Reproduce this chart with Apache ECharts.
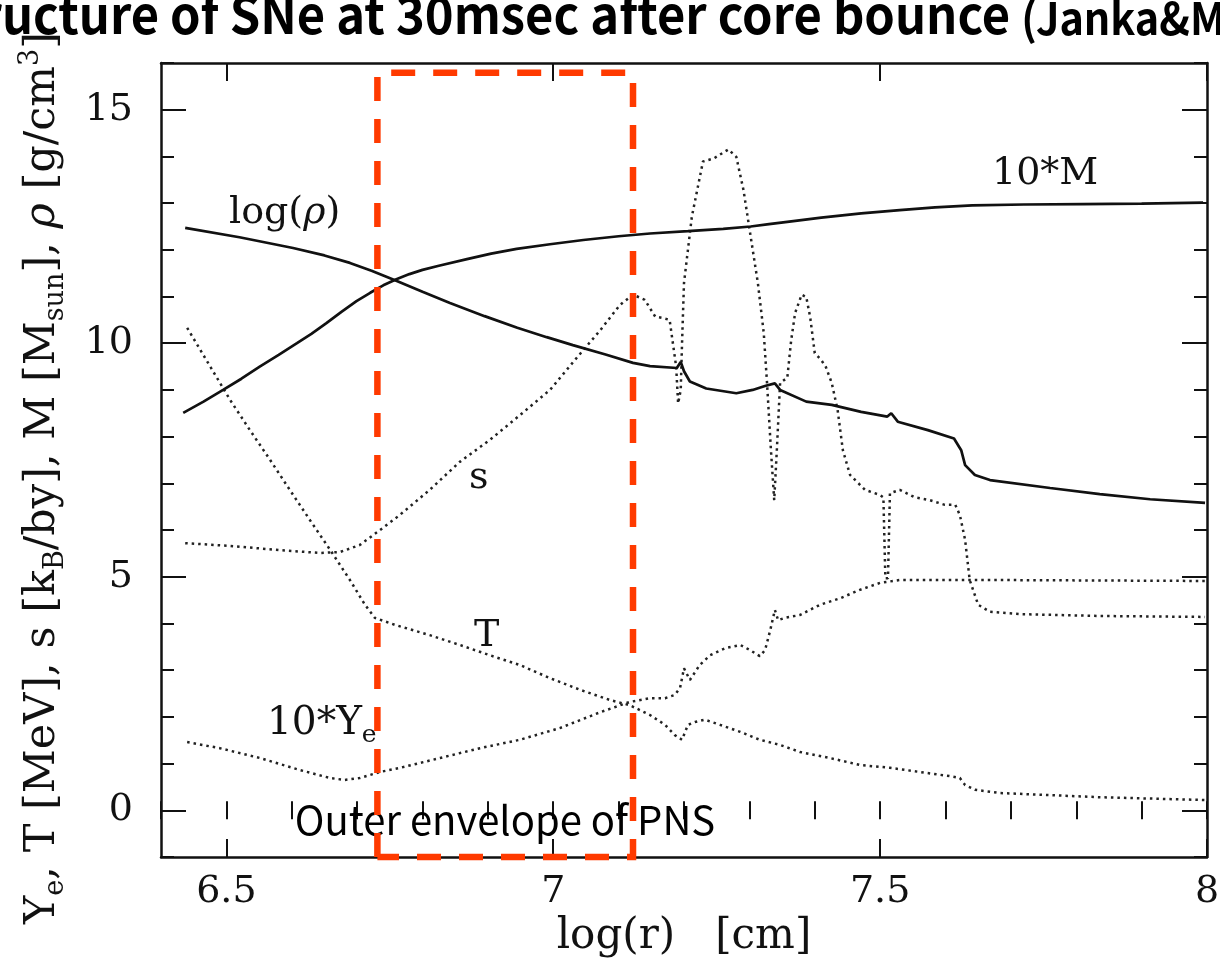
<!DOCTYPE html>
<html><head><meta charset="utf-8">
<script src="https://cdn.jsdelivr.net/npm/echarts@6/dist/echarts.min.js"></script>
<style>html,body{margin:0;padding:0;background:#fff;overflow:hidden}#c{width:1220px;height:959px}</style>
</head><body><div id="c"></div>
<script>
// ---- axis ranges and ticks ----
const X_MIN = 6.4, X_MAX = 8;
const Y_MIN = -1, Y_MAX = 16;
const xMajorTicks = [6.5, 7, 7.5, 8];
const xMinorTicks = [6.4, 6.5, 6.6, 6.7, 6.8, 6.9, 7.0, 7.1, 7.2, 7.3, 7.4, 7.5, 7.6, 7.7, 7.8, 7.9, 8.0];
const yMajorTicks = [0, 5, 10, 15];
const yMinorTicks = [-1, 0, 1, 2, 3, 4, 5, 6, 7, 8, 9, 10, 11, 12, 13, 14, 15, 16];

// ---- series values [log(r), value] ----
const rhoData = [
 [6.437,12.47],[6.520,12.27],[6.602,12.04],[6.650,11.88],[6.689,11.72],[6.722,11.55],[6.758,11.35],
 [6.800,11.10],[6.842,10.86],[6.895,10.58],[6.945,10.33],[6.990,10.13],[7.030,9.96],[7.080,9.76],
 [7.122,9.58],[7.148,9.51],[7.189,9.47],[7.195,9.60],[7.200,9.40],[7.209,9.18],[7.234,9.03],[7.280,8.93],
 [7.305,9.00],[7.325,9.09],[7.339,9.14],[7.347,9.00],[7.387,8.75],[7.426,8.68],[7.471,8.53],[7.511,8.43],
 [7.517,8.50],[7.527,8.32],[7.573,8.14],[7.613,7.96],[7.624,7.71],[7.630,7.39],[7.645,7.18],[7.668,7.07],
 [7.760,6.90],[7.836,6.77],[7.913,6.66],[7.997,6.58]
];
const massData = [
 [6.434,8.51],[6.465,8.75],[6.495,9.00],[6.523,9.24],[6.551,9.50],[6.580,9.75],[6.608,10.00],
 [6.630,10.20],[6.653,10.43],[6.676,10.67],[6.699,10.90],[6.720,11.08],[6.740,11.24],[6.760,11.37],
 [6.780,11.48],[6.800,11.57],[6.825,11.66],[6.868,11.80],[6.905,11.92],[6.944,12.02],[6.995,12.12],
 [7.046,12.21],[7.100,12.29],[7.148,12.35],[7.206,12.40],[7.260,12.45],[7.302,12.50],[7.330,12.55],
 [7.358,12.60],[7.410,12.69],[7.471,12.78],[7.530,12.85],[7.584,12.91],[7.641,12.95],[7.720,12.97],
 [7.810,12.98],[7.900,12.99],[7.994,13.01]
];
const entropyData = [
 [6.437,5.72],[6.506,5.66],[6.582,5.57],[6.643,5.51],[6.674,5.53],[6.704,5.68],[6.735,6.00],[6.765,6.32],
 [6.811,6.86],[6.857,7.46],[6.903,7.93],[6.949,8.46],[6.995,9.00],[7.033,9.64],[7.072,10.28],[7.102,10.82],
 [7.122,11.04],[7.140,10.93],[7.156,10.57],[7.167,10.54],[7.178,10.50],[7.183,10.00],[7.188,9.50],
 [7.191,8.71],[7.195,9.00],[7.197,10.00],[7.200,11.29],[7.212,12.71],[7.229,13.89],[7.246,13.96],
 [7.268,14.15],[7.280,13.99],[7.291,13.28],[7.302,12.28],[7.313,11.29],[7.322,10.22],[7.327,9.15],
 [7.333,7.71],[7.338,6.64],[7.342,7.71],[7.347,9.15],[7.358,9.26],[7.364,10.07],[7.370,10.65],
 [7.380,11.04],[7.387,10.99],[7.393,10.56],[7.400,9.79],[7.410,9.64],[7.417,9.49],[7.426,9.15],
 [7.435,8.57],[7.443,7.71],[7.454,7.18],[7.477,6.86],[7.500,6.75],[7.505,6.70],[7.508,4.97],[7.512,4.97],
 [7.515,6.79],[7.530,6.86],[7.553,6.70],[7.576,6.64],[7.599,6.54],[7.615,6.54],[7.622,6.32],[7.630,5.79],
 [7.637,4.93],[7.650,4.40],[7.668,4.25],[7.714,4.20],[7.836,4.16],[7.997,4.14]
];
const tempData = [
 [6.440,10.33],[6.460,9.86],[6.483,9.32],[6.506,8.78],[6.536,8.14],[6.567,7.50],[6.597,6.86],[6.628,6.21],
 [6.659,5.57],[6.689,4.93],[6.712,4.40],[6.727,4.12],[6.758,3.97],[6.811,3.75],[6.857,3.54],[6.903,3.32],
 [6.949,3.11],[6.995,2.83],[7.041,2.58],[7.087,2.36],[7.117,2.25],[7.148,2.04],[7.171,1.83],[7.186,1.61],
 [7.197,1.51],[7.206,1.83],[7.217,1.89],[7.232,1.94],[7.255,1.83],[7.286,1.68],[7.316,1.51],[7.347,1.40],
 [7.377,1.25],[7.423,1.12],[7.469,0.97],[7.515,0.91],[7.561,0.82],[7.607,0.73],[7.622,0.69],[7.630,0.54],
 [7.645,0.44],[7.683,0.37],[7.836,0.28],[7.997,0.22]
];
const yeData = [
 [6.440,1.46],[6.490,1.33],[6.551,1.12],[6.613,0.86],[6.659,0.69],[6.681,0.65],[6.704,0.69],[6.735,0.82],
 [6.766,0.91],[6.827,1.12],[6.888,1.33],[6.949,1.51],[7.010,1.76],[7.072,2.10],[7.117,2.32],[7.148,2.40],
 [7.171,2.40],[7.186,2.47],[7.194,2.62],[7.200,3.04],[7.209,2.79],[7.224,3.11],[7.240,3.32],[7.263,3.47],
 [7.286,3.54],[7.301,3.43],[7.316,3.30],[7.324,3.43],[7.332,3.86],[7.339,4.29],[7.344,4.07],[7.354,4.12],
 [7.377,4.18],[7.408,4.40],[7.439,4.54],[7.469,4.72],[7.500,4.87],[7.530,4.93],[7.683,4.93],[7.997,4.91]
];
// outer envelope of PNS (box corners)
const envX = [6.731, 7.122];
const envY = [-1.0, 15.79];

// ---- styles ----
const SERIF = '"DejaVu Serif", "Liberation Serif", serif';
const INK = '#111';
const dot = { type: [2.5, 4], width: 2.5, color: '#222' };
const solid = { type: 'solid', width: 2.7, color: INK };

const chart = echarts.init(document.getElementById('c'), null, { renderer: 'canvas' });

function xAx(pos, ticks, len, extra) {
  return Object.assign({
    type: 'value', min: X_MIN, max: X_MAX, position: pos,
    splitLine: { show: false },
    axisLine: { show: false },
    axisLabel: { show: false },
    axisTick: { show: true, inside: true, length: len, customValues: ticks, lineStyle: { color: INK, width: 2 } }
  }, extra || {});
}
function yAx(pos, ticks, len, extra) {
  return Object.assign({
    type: 'value', min: Y_MIN, max: Y_MAX, position: pos,
    splitLine: { show: false },
    axisLine: { show: false },
    axisLabel: { show: false },
    axisTick: { show: true, inside: true, length: len, customValues: ticks, lineStyle: { color: INK, width: 2 } }
  }, extra || {});
}
const frameLine = { show: true, onZero: false, lineStyle: { color: INK, width: 2.5 } };

const envBox = [[envX[0], envY[0]], [envX[0], envY[1]], [envX[1], envY[1]], [envX[1], envY[0]], [envX[0], envY[0]]];

const option = {
  animation: false,
  backgroundColor: '#fff',
  grid: { left: 161, right: 13, top: 63, bottom: 102, outerBoundsMode: 'none', containLabel: false },
  xAxis: [
    xAx('bottom', xMajorTicks, 18, {
      axisLine: frameLine,
      axisLabel: { show: true, customValues: xMajorTicks, formatter: v => String(v), margin: 16,
        color: INK, fontFamily: SERIF, fontSize: 38 },
      name: 'log(r)   [cm]', nameLocation: 'middle', nameGap: 56,
      nameTextStyle: { color: INK, fontFamily: SERIF, fontSize: 42 }
    }),
    xAx('bottom', xMinorTicks, 9),
    xAx('top', xMajorTicks, 18, { axisLine: frameLine }),
    xAx('top', xMinorTicks, 9)
  ],
  yAxis: [
    yAx('left', yMajorTicks, 25, {
      axisLine: frameLine,
      axisLabel: { show: true, customValues: yMajorTicks, formatter: v => String(v), margin: 28,
        color: INK, fontFamily: SERIF, fontSize: 38 },
      name: '{n|Y}{sub|e}{n|, T [MeV], s [k}{sub|B}{n|/by], M [M}{sub|sun}{n|], }{it|ρ}{n| [g/cm}{sup|3}{n|]}',
      nameLocation: 'middle', nameRotate: 90, nameGap: 92,
      nameTextStyle: { color: INK, fontFamily: SERIF, fontSize: 43, padding: [0, 36, 0, 0],
        rich: {
          n: { fontFamily: SERIF, fontSize: 43, color: INK, lineHeight: 52, verticalAlign: 'middle' },
          it: { fontFamily: SERIF, fontSize: 43, fontStyle: 'italic', color: INK, lineHeight: 52, verticalAlign: 'middle' },
          sub: { fontFamily: SERIF, fontSize: 27, color: INK, lineHeight: 27, verticalAlign: 'bottom' },
          sup: { fontFamily: SERIF, fontSize: 27, color: INK, lineHeight: 27, verticalAlign: 'top' }
        } }
    }),
    yAx('left', yMinorTicks, 13),
    yAx('right', yMajorTicks, 25, { axisLine: frameLine }),
    yAx('right', yMinorTicks, 13)
  ],
  series: [
    { name: 'log(rho)', type: 'line', data: rhoData, showSymbol: false, symbol: 'none', lineStyle: solid, z: 3 },
    { name: '10*M', type: 'line', data: massData, showSymbol: false, symbol: 'none', lineStyle: solid, z: 3 },
    { name: 's', type: 'line', data: entropyData, showSymbol: false, symbol: 'none', lineStyle: dot, z: 2 },
    { name: 'T', type: 'line', data: tempData, showSymbol: false, symbol: 'none', lineStyle: dot, z: 2 },
    { name: '10*Ye', type: 'line', data: yeData, showSymbol: false, symbol: 'none', lineStyle: dot, z: 2 },
    { name: 'Outer envelope of PNS', type: 'line', data: envBox, showSymbol: false, symbol: 'none', clip: false,
      lineStyle: { type: [24, 18], width: 6.5, color: '#ff3a00', cap: 'butt', join: 'miter' }, z: 5 }
  ],
  graphic: [
    { type: 'text', x: -69, y: 40, scaleX: 0.94, z: 10, style: {
        text: '{t|Structure of SNe at 30msec after core bounce }{s|(Janka&Müller)}',
        verticalAlign: 'bottom', align: 'left',
        rich: {
          t: { font: 'bold 52px "Noto Sans CJK JP"', fill: '#000', verticalAlign: 'bottom' },
          s: { font: 'bold 44px "Noto Sans CJK JP"', fill: '#000', verticalAlign: 'bottom' }
        } } },
    { type: 'text', x: 229, y: 232, z: 10, style: { text: '{n|log(}{it|ρ}{n|)}', verticalAlign: 'bottom',
        rich: { n: { font: '38px ' + SERIF, fill: INK }, it: { font: 'italic 38px ' + SERIF, fill: INK } } } },
    { type: 'text', x: 992, y: 193, z: 10, style: { text: '10*M', font: '38px ' + SERIF, fill: INK, verticalAlign: 'bottom' } },
    { type: 'text', x: 469, y: 497, z: 10, style: { text: 's', font: '38px ' + SERIF, fill: INK, verticalAlign: 'bottom' } },
    { type: 'text', x: 474, y: 655, z: 10, style: { text: 'T', font: '38px ' + SERIF, fill: INK, verticalAlign: 'bottom' } },
    { type: 'text', x: 267, y: 748, z: 10, style: {
        text: '{n|10*Y}{sub|e}', verticalAlign: 'bottom',
        rich: {
          n: { font: '39px ' + SERIF, fill: INK, lineHeight: 48, verticalAlign: 'middle' },
          sub: { font: '25px ' + SERIF, fill: INK, lineHeight: 25, verticalAlign: 'bottom' }
        } } },
    { type: 'text', x: 505, y: 840, z: 1, style: { text: 'Outer envelope of PNS', font: '40px "Noto Sans CJK JP"',
        fill: '#000', align: 'center', verticalAlign: 'bottom' } }
  ]
};
chart.setOption(option);
</script>
</body></html>
